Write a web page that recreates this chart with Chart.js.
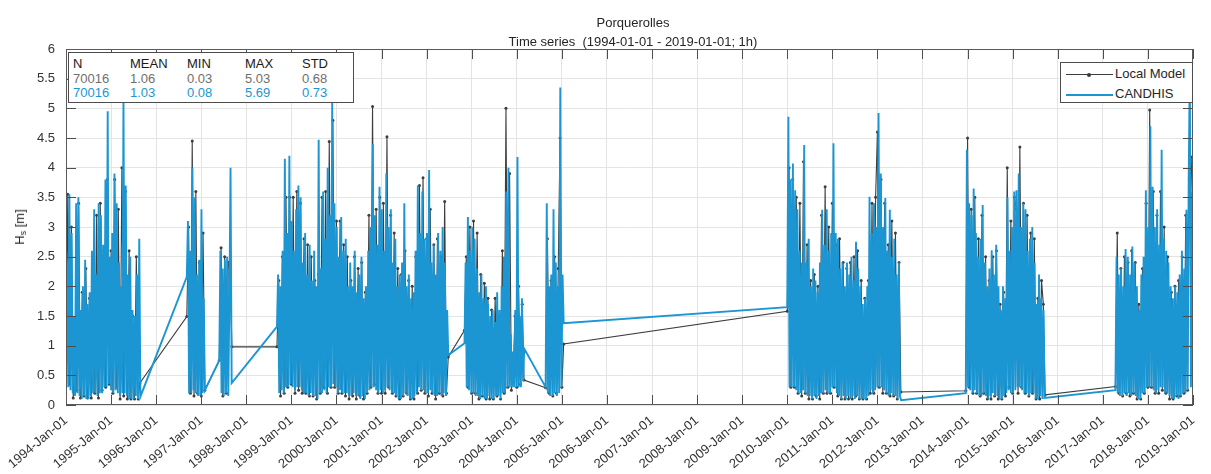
<!DOCTYPE html>
<html>
<head>
<meta charset="utf-8">
<script src="https://cdn.jsdelivr.net/npm/chart.js@4/dist/chart.umd.min.js"></script>
<style>
  html, body { margin:0; padding:0; background:#fff; }
  #wrap { position:relative; width:1211px; height:474px; background:#fff; font-family:"Liberation Sans", Arial, Helvetica, sans-serif; color:#262626; }
  #c { position:absolute; left:0; top:0; }
  .abs { position:absolute; white-space:pre; }
  #title { left:66px; width:1134px; top:13px; text-align:center; font-size:13px; line-height:19px; }
  #ylab { left:20px; top:227px; font-size:13px; transform:translate(-50%,-50%) rotate(-90deg); }
  #ylab sub { font-size:9px; vertical-align:-2px; }
  #stats { left:68px; top:52px; width:284px; height:49px; border:1px solid #4d4d4d; background:#fff; font-size:13px; }
  #stats span { position:absolute; line-height:14px; }
  #legend { left:1060px; top:62px; width:131px; height:39px; border:1px solid #4d4d4d; background:#fff; font-size:13px; }
  #legend .ln { position:absolute; left:5px; width:47px; height:0; }
  #legend .tx { position:absolute; left:54px; line-height:14px; }
  #legend .dot { position:absolute; left:21px; top:-2px; width:4px; height:4px; border-radius:2px; background:#3a3a3a; }
</style>
</head>
<body>
<div id="wrap">
  <canvas id="c" width="1211" height="474"></canvas>
  <div id="title" class="abs"></div>
  <div id="ylab" class="abs">H<sub>s</sub> [m]</div>
  <div id="stats" class="abs"></div>
  <div id="legend" class="abs"></div>
</div>
<script>
// ---------------- data ----------------
const chartTitle = ["Porquerolles", "Time series  (1994-01-01 - 2019-01-01; 1h)"];
const seriesNames = ["Local Model", "CANDHIS"];
const statHeaders = ["N", "MEAN", "MIN", "MAX", "STD"];
const statsLocal = ["70016", "1.06", "0.03", "5.03", "0.68"];
const statsCandhis = ["70016", "1.03", "0.08", "5.69", "0.73"];
const yearTicks = [1994,1995,1996,1997,1998,1999,2000,2001,2002,2003,2004,2005,2006,2007,2008,2009,2010,2011,2012,2013,2014,2015,2016,2017,2018,2019];

const segmentStart = [1994.00, 1996.68, 1997.40, 1998.68, 2002.84, 2004.64, 2010.00, 2013.96, 2017.28];
const CANDHIS_STEP = 0.025;
const LOCAL_STEP = 0.04;

// Hs values (m), CANDHIS buoy
const candhis1994 = [0.6,2.4,0.3,3.55,0.25,2.9,0.2,1.5,0.15,3.4,
  0.2,3.5,0.15,1.6,0.1,2.0,0.15,2.45,0.1,1.7,
  0.1,1.9,0.15,2.6,0.2,3.3,0.2,2.2,0.15,3.4,
  0.2,3.2,0.2,2.7,0.3,3.8,0.3,4.95,0.35,2.5,
  0.25,2.9,0.2,3.9,0.25,3.4,0.2,2.4,0.15,2.0,
  0.2,5.2,0.2,3.7,0.15,2.2,0.1,2.5,0.1,1.6,
  0.1,1.5,0.15,2.2,0.1,2.8,0.14];
const candhis1996 = [2.16,3.1,0.2,2.6,0.2,4.0,0.25,3.5,0.2,2.2,0.15,2.45,0.15,3.3,0.2,1.8,0.25];
const candhis1997 = [0.75,2.6,0.2,2.3,0.15,2.45,0.2,2.5,0.15,1.8,4.0,0.37];
const candhis1998 = [1.32,2.2,0.2,2.0,0.25,2.6,0.2,4.15,0.3,2.9,
  0.3,4.2,0.35,3.1,0.3,2.6,0.25,3.3,0.3,3.7,
  0.3,3.5,0.25,2.4,0.2,2.9,0.2,2.2,0.15,2.7,
  0.2,2.1,0.15,2.6,0.15,2.0,0.1,4.47,0.2,2.3,
  0.2,3.6,0.25,2.8,0.2,4.0,0.3,3.2,0.3,5.09,
  0.35,3.4,0.3,3.0,0.2,2.5,0.25,3.17,0.2,2.6,
  0.2,2.8,0.2,2.0,0.15,2.4,0.15,2.0,0.2,2.6,
  0.15,1.9,0.15,2.2,0.1,2.5,0.15,1.8,0.1,2.0,
  0.2,2.6,0.25,3.0,0.3,4.4,0.3,3.2,0.25,2.7,
  0.2,3.68,0.25,3.3,0.2,2.6,0.25,3.9,0.3,3.0,
  0.25,3.3,0.2,2.4,0.2,2.8,0.15,2.0,0.1,2.2,
  0.1,2.4,0.15,3.4,0.2,2.0,0.15,2.2,0.1,1.8,
  0.1,1.9,0.15,2.6,0.2,3.7,0.3,2.9,0.25,3.6,
  0.25,2.8,0.2,2.9,0.2,3.96,0.25,2.4,0.2,2.7,
  0.15,2.2,0.15,2.9,0.2,2.6,0.15,3.0,0.2,2.4,
  0.15,1.6,0.84];
const candhis2002 = [1.04,2.4,0.3,3.17,0.25,2.6,0.2,3.0,0.2,2.8,
  0.15,2.3,0.15,1.9,0.1,2.2,0.15,1.8,0.1,2.0,
  0.1,1.7,0.15,1.5,0.1,1.6,0.1,1.4,0.15,1.9,
  0.15,1.6,0.1,2.0,0.2,2.5,0.2,3.6,0.3,4.0,
  0.3,1.2,0.3,0.9,0.3,1.6,0.3,4.18,0.3,1.5,
  0.3,1.8,0.4,0.95];
const candhis2004 = [0.3,3.4,0.2,2.0,0.15,2.2,0.15,3.3,0.2,2.4,0.15,2.0,0.2,5.35,0.3,2.2,1.38];
const candhis2010 = [1.65,4.86,0.3,3.8,0.3,4.07,0.3,3.62,0.25,3.3,
  0.2,2.6,0.2,2.4,0.25,4.38,0.2,2.4,0.15,2.8,
  0.15,2.0,0.1,2.3,0.15,2.1,0.1,1.9,0.15,2.4,
  0.2,3.29,0.2,2.7,0.25,3.3,0.2,2.6,0.2,2.9,
  0.3,4.41,0.3,2.9,0.2,2.8,0.15,2.3,0.1,2.4,
  0.15,2.0,0.1,2.4,0.15,2.2,0.1,2.5,0.15,2.1,
  0.1,2.75,0.15,2.3,0.1,2.0,0.1,1.7,0.1,1.8,
  0.1,2.0,0.15,3.51,0.25,2.9,0.2,3.4,0.25,3.0,
  0.3,4.92,0.3,3.9,0.3,3.0,0.25,3.49,0.2,2.6,
  0.15,3.29,0.2,2.5,0.15,2.8,0.15,2.2,0.1,2.4,
  0.15,0.08];
const candhis2014 = [0.2,4.3,0.3,3.4,0.25,3.2,0.2,3.65,0.25,2.9,
  0.2,2.5,0.15,2.8,0.15,3.37,0.2,2.4,0.15,2.0,
  0.1,2.3,0.15,2.61,0.2,2.2,0.15,2.7,0.15,2.0,
  0.1,1.6,0.1,2.0,0.15,1.8,0.2,3.5,0.25,2.6,
  0.2,3.0,0.2,3.6,0.25,3.62,0.3,3.9,0.3,3.0,
  0.25,3.4,0.2,3.3,0.2,2.6,0.15,2.8,0.2,3.0,
  0.2,2.4,0.1,1.7,0.1,2.2,0.15,1.8,0.1,1.6,
  0.12];
const candhis2017 = [0.25,2.5,0.2,2.2,0.15,2.3,0.15,2.0,0.2,2.63,
  0.15,2.5,0.2,2.2,0.15,2.67,0.2,2.4,0.15,2.0,
  0.1,1.6,0.1,2.2,0.2,2.5,0.2,3.62,0.3,3.0,
  0.3,4.7,0.3,3.68,0.25,3.0,0.2,3.3,0.25,2.7,
  0.3,4.3,0.3,2.8,0.2,2.6,0.2,2.4,0.15,2.0,
  0.1,1.8,0.1,2.0,0.15,1.9,0.1,2.2,0.15,2.6,
  0.2,2.3,0.2,3.29,0.25,3.8,5.69,0.3,3.6];

// Hs values (m), local model
const local1994 = [0.7,3.55,0.35,3.0,0.12,1.4,0.25,3.4,0.12,1.9,
  0.15,2.3,0.12,1.8,0.12,2.5,0.2,3.2,0.12,3.4,
  0.25,2.6,0.3,3.8,0.35,2.6,0.2,3.8,0.3,3.3,
  0.1,4.0,0.15,3.6,0.1,2.6,0.1,1.5,0.1,2.5,
  0.1,0.37];
const local1996 = [1.49,3.0,0.2,4.45,0.15,3.6,0.2,2.4,0.15,2.9,0.25];
const local1997 = [0.75,2.65,0.15,2.5,0.2,2.4,2.3,0.98];
const local1998 = [0.98,2.1,0.15,2.5,0.2,3.5,0.3,3.5,0.35,3.5,
  0.2,3.6,0.25,3.4,0.2,2.8,0.2,2.7,0.15,2.5,
  0.15,2.1,0.1,2.2,0.2,3.5,0.3,3.6,0.2,4.44,
  0.3,4.8,0.3,3.1,0.2,3.1,0.2,2.7,0.15,2.5,
  0.1,2.1,0.15,2.5,0.1,2.3,0.15,2.4,0.1,1.9,
  0.2,3.2,0.3,5.03,0.35,3.3,0.2,3.5,0.2,3.4,
  0.2,4.52,0.3,3.2,0.2,2.9,0.15,2.3,0.1,2.2,
  0.15,2.6,0.2,2.1,0.1,2.0,0.1,2.5,0.2,3.7,
  0.25,3.83,0.2,2.8,0.15,3.3,0.2,2.7,0.1,2.8,
  0.2,2.5,0.15,3.43,0.2,0.81];
const local2002 = [1.26,2.5,0.3,3.0,0.2,3.1,0.2,2.9,0.1,2.2,
  0.15,2.05,0.1,1.8,0.1,1.6,0.1,1.8,0.15,1.5,
  0.1,2.6,0.2,5.0,0.3,3.9,0.25,0.5,1.5,0.3,
  2.0,0.35,1.7,0.42];
const local2004 = [0.29,2.8,0.2,2.1,0.15,2.5,0.2,2.3,4.5,0.3,1.03];
const local2010 = [1.58,4.0,0.3,3.8,0.3,3.5,0.2,3.4,0.15,4.1,
  0.2,2.7,0.1,2.1,0.1,2.2,0.15,2.0,0.1,3.2,
  0.2,3.68,0.2,3.0,0.2,3.4,0.3,2.7,0.15,2.8,
  0.1,2.4,0.1,2.3,0.1,2.4,0.1,2.5,0.15,2.6,
  0.1,2.1,0.1,1.8,0.1,2.1,0.2,3.4,0.2,3.5,
  4.6,0.3,3.8,0.2,3.4,0.2,2.7,0.15,3.1,0.15,
  2.9,0.1,2.4,0.22];
const local2014 = [0.24,4.5,0.3,3.3,0.2,3.5,0.2,2.8,0.15,3.2,
  0.2,2.5,0.1,2.1,0.1,2.5,0.15,2.6,0.1,1.7,
  0.1,1.9,0.15,4.0,0.3,3.1,0.2,3.5,3.3,0.2,
  4.35,0.3,3.4,0.2,3.2,0.15,2.9,0.2,2.8,0.1,
  1.8,0.1,2.1,1.7,0.17];
const local2017 = [0.31,2.9,0.2,2.3,0.15,2.5,0.2,2.4,0.15,2.6,
  0.2,2.4,0.1,1.7,0.1,2.3,0.2,3.4,0.3,4.97,
  0.3,3.6,0.2,3.2,0.2,3.6,0.25,3.0,0.2,2.5,
  0.1,1.9,0.1,2.0,0.15,2.1,0.15,2.5,0.2,3.2,
  0.25,3.8,4.18,3.0];

const candhisSegments = [candhis1994,candhis1996,candhis1997,candhis1998,candhis2002,candhis2004,candhis2010,candhis2014,candhis2017];
const localSegments = [local1994,local1996,local1997,local1998,local2002,local2004,local2010,local2014,local2017];

function toPoints(segments, step){
  const pts = [];
  segments.forEach((vals, i) => {
    vals.forEach((v, j) => {
      pts.push({ x: Math.round((segmentStart[i] + j * step) * 10000) / 10000, y: v });
    });
  });
  return pts;
}

// ---------------- styles ----------------
const BLUE = '#1b96d3';
const DARK = '#3d3d3d';
const FONT = '"Liberation Sans", Arial, Helvetica, sans-serif';

// ---------------- HTML text parts ----------------
document.getElementById('title').textContent = chartTitle.join('\n');

const stats = document.getElementById('stats');
const colX = [4, 61, 118, 176, 233];
const rowY = [4, 19, 33];
const rows = [[statHeaders, '#1a1a1a'], [statsLocal, '#6f6f6f'], [statsCandhis, BLUE]];
rows.forEach(([vals, col], r) => {
  vals.forEach((t, c) => {
    const s = document.createElement('span');
    s.textContent = t; s.style.left = colX[c] + 'px'; s.style.top = rowY[r] + 'px'; s.style.color = col;
    stats.appendChild(s);
  });
});

const legend = document.getElementById('legend');
[[seriesNames[0], DARK, 1, true, 11], [seriesNames[1], BLUE, 2, false, 31]].forEach(([name, col, w, dot, cy]) => {
  const ln = document.createElement('div');
  ln.className = 'ln'; ln.style.top = cy + 'px'; ln.style.borderTop = w + 'px solid ' + col;
  if (dot) { const d = document.createElement('div'); d.className = 'dot'; ln.appendChild(d); }
  legend.appendChild(ln);
  const tx = document.createElement('div');
  tx.className = 'tx'; tx.style.top = (cy - 7) + 'px'; tx.textContent = name;
  legend.appendChild(tx);
});

// ---------------- chart ----------------
const framePlugin = {
  id: 'frame',
  afterDatasetsDraw(chart) {
    const { ctx, chartArea: a, scales: { x, y } } = chart;
    ctx.save();
    ctx.strokeStyle = '#4d4d4d';
    ctx.lineWidth = 1;
    ctx.beginPath();
    x.ticks.forEach(t => {
      const px = Math.round(x.getPixelForValue(t.value)) + 0.5;
      ctx.moveTo(px, a.bottom); ctx.lineTo(px, a.bottom - 10);
      ctx.moveTo(px, a.top); ctx.lineTo(px, a.top + 10);
    });
    y.ticks.forEach(t => {
      const py = Math.round(y.getPixelForValue(t.value)) + 0.5;
      ctx.moveTo(a.left, py); ctx.lineTo(a.left + 10, py);
      ctx.moveTo(a.right, py); ctx.lineTo(a.right - 10, py);
    });
    ctx.stroke();
    ctx.strokeStyle = '#5a5a5a';
    ctx.strokeRect(Math.round(a.left) + 0.5, Math.round(a.top) + 0.5, Math.round(a.width) - 1, Math.round(a.height) - 1);
    ctx.restore();
  }
};

new Chart(document.getElementById('c'), {
  type: 'line',
  data: {
    datasets: [
      { label: seriesNames[0], data: toPoints(localSegments, LOCAL_STEP), borderColor: DARK, backgroundColor: DARK,
        borderWidth: 1.1, pointRadius: 1.5, pointBorderWidth: 0, pointBackgroundColor: DARK, tension: 0, order: 2 },
      { label: seriesNames[1], data: toPoints(candhisSegments, CANDHIS_STEP), borderColor: BLUE, backgroundColor: BLUE,
        borderWidth: 1.9, pointRadius: 0, tension: 0, order: 1 }
    ]
  },
  options: {
    responsive: false,
    animation: false,
    devicePixelRatio: 1,
    events: [],
    layout: { padding: { left: 0, top: 49, right: 11, bottom: 0 } },
    plugins: { legend: { display: false }, title: { display: false }, tooltip: { enabled: false } },
    scales: {
      x: {
        type: 'linear', min: 1994, max: 2019,
        afterBuildTicks: (s) => { s.ticks = yearTicks.map(v => ({ value: v })); },
        afterFit: (s) => { s.height = 69; },
        grid: { color: '#e4e4e4', drawTicks: false },
        border: { display: false },
        ticks: { autoSkip: false, maxRotation: 40, minRotation: 40, padding: 8, color: '#333',
          font: { family: FONT, size: 13 }, callback: (v) => v + '-Jan-01' }
      },
      y: {
        min: 0, max: 6,
        afterFit: (s) => { s.width = 66; },
        grid: { color: '#e4e4e4', drawTicks: false },
        border: { display: false },
        ticks: { stepSize: 0.5, padding: 11, color: '#333', font: { family: FONT, size: 13 },
          callback: (v) => String(v) }
      }
    }
  },
  plugins: [framePlugin]
});
</script>
</body>
</html>
